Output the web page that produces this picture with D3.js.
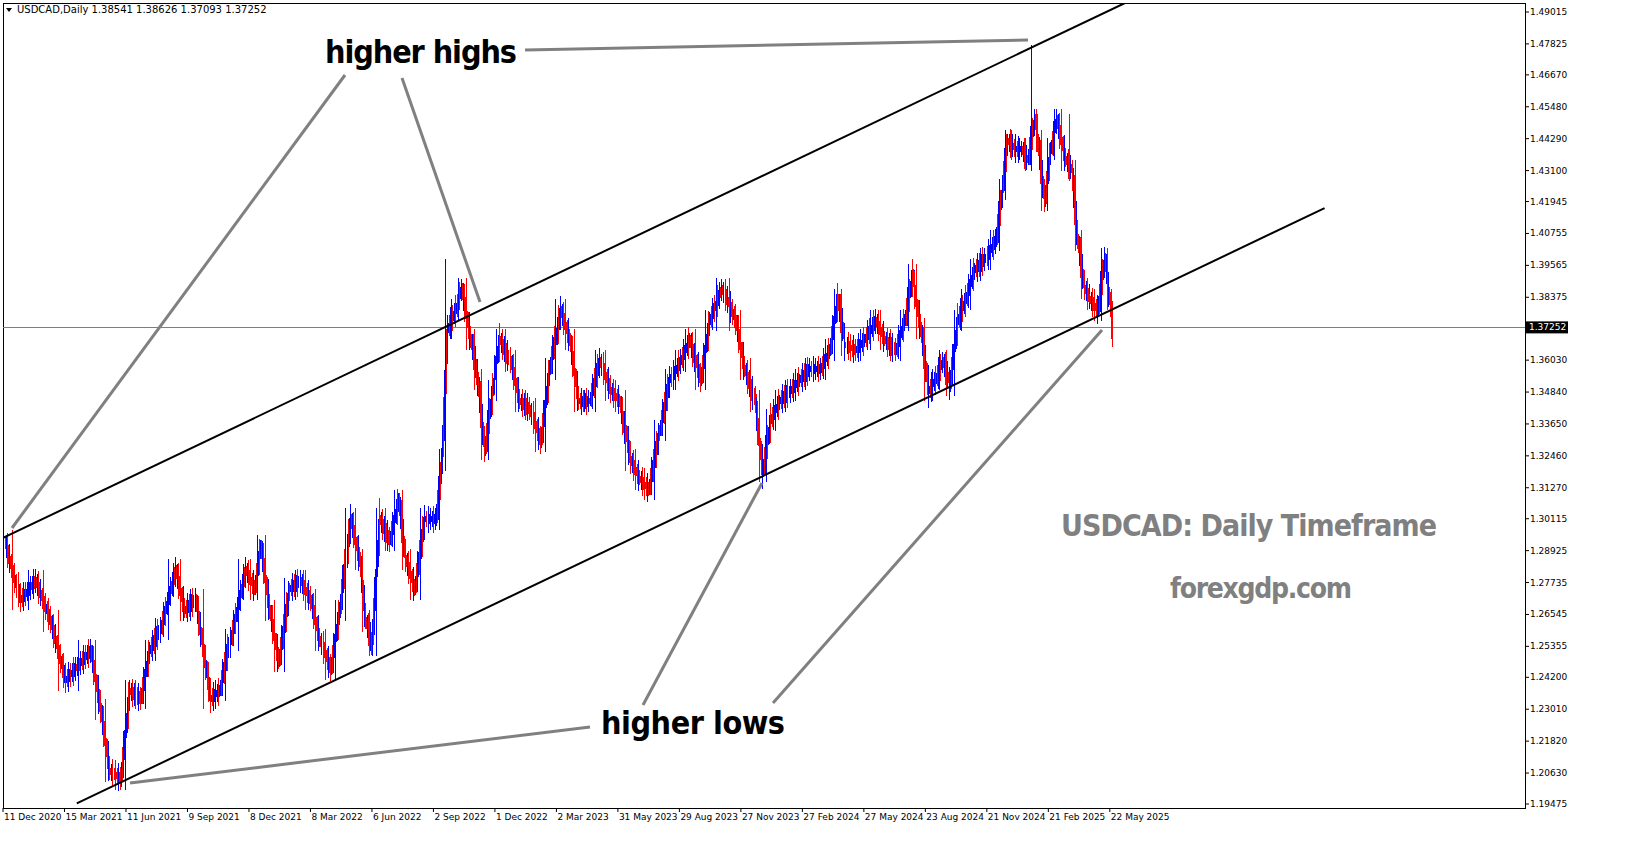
<!DOCTYPE html>
<html><head><meta charset="utf-8">
<script src="https://d3js.org/d3.v7.min.js"></script>
<style>
body{margin:0;background:#fff;}
svg{display:block;font-family:Tahoma,"DejaVu Sans",sans-serif;}
.big{font-family:"DejaVu Sans Condensed","DejaVu Sans",sans-serif;font-weight:bold;}
</style></head>
<body><svg id="chart" width="1631" height="861"></svg>
<script>
// approximate closes, [trading-day index, price]
const barIdx = [2,18,34,50,66,92,103,113,124,134,145,155,166,182,192,203,219,229,240,256,266,272,282,291,303,314,325,335,346,356,367,377,383,390,398,409,418,425,435,446,457,464,470,478,485,494,502,509,517,525,536,546,557,568,578,589,599,608,620,631,642,652,663,673,682,694,705,716,726,737,747,760,774,784,795,803,811,821,832,842,853,864,874,882,890,901,911,922,932,943,953,961,970,978,986,993,1001,1009,1017,1027,1038,1049,1056,1062,1070,1077,1083,1090,1094,1101,1107,1114,1123,1130,1136,1143,1149,1157,1164,1170,1173];
const closes = [1.293,1.271,1.278,1.263,1.241,1.252,1.230,1.207,1.204,1.237,1.234,1.252,1.260,1.282,1.267,1.271,1.234,1.237,1.256,1.282,1.275,1.291,1.267,1.248,1.275,1.278,1.271,1.256,1.245,1.267,1.301,1.286,1.263,1.254,1.301,1.293,1.308,1.286,1.275,1.301,1.301,1.323,1.372,1.379,1.387,1.368,1.353,1.327,1.349,1.368,1.360,1.345,1.342,1.330,1.357,1.379,1.368,1.345,1.345,1.360,1.349,1.345,1.323,1.316,1.312,1.334,1.353,1.360,1.368,1.353,1.375,1.387,1.375,1.357,1.345,1.319,1.338,1.345,1.349,1.353,1.357,1.357,1.364,1.383,1.366,1.364,1.368,1.375,1.368,1.364,1.375,1.392,1.372,1.349,1.353,1.360,1.351,1.375,1.383,1.394,1.398,1.405,1.424,1.442,1.439,1.439,1.435,1.450,1.442,1.420,1.439,1.450,1.435,1.431,1.405,1.387,1.383,1.379,1.398,1.383,1.372];
const highOverride = {1090:1.478, 470:1.398, 1130:1.452};
const dateLabels = ["11 Dec 2020","15 Mar 2021","11 Jun 2021","9 Sep 2021","8 Dec 2021","8 Mar 2022","6 Jun 2022","2 Sep 2022","1 Dec 2022","2 Mar 2023","31 May 2023","29 Aug 2023","27 Nov 2023","27 Feb 2024","27 May 2024","23 Aug 2024","21 Nov 2024","21 Feb 2025","22 May 2025"];
const dateIdx = dateLabels.map((d,i)=>i*65);
const priceTicks = [1.49015,1.47825,1.46670,1.45480,1.44290,1.43100,1.41945,1.40755,1.39565,1.38375,1.36030,1.34840,1.33650,1.32460,1.31270,1.30115,1.28925,1.27735,1.26545,1.25355,1.24200,1.23010,1.21820,1.20630,1.19475];
const lastPrice = 1.37252;
const upperLine = [[0,1.294],[1186,1.4935]];
const lowerLine = [[78,1.195],[1397,1.417]];

const svg = d3.select("#chart");
const L=3, R=1525, T=3, B=808;
const x = d3.scaleLinear().domain([0,1200]).range([3,3+1200*0.946]);
const y = d3.scaleLinear().domain([1.19475,1.49015]).range([804,12]);

svg.append("rect").attr("x",L+0.5).attr("y",T+0.5).attr("width",R-L).attr("height",B-T).attr("fill","none").attr("stroke","#000");
const plot = svg.append("g");
svg.append("clipPath").attr("id","clip").append("rect").attr("x",L).attr("y",T).attr("width",R-L).attr("height",B-T);
plot.attr("clip-path","url(#clip)");

// current price line
plot.append("line").attr("x1",L).attr("x2",R).attr("y1",Math.round(y(lastPrice))+0.5).attr("y2",Math.round(y(lastPrice))+0.5).attr("stroke","#6f809c").attr("stroke-width",1);

// candles
const cg = plot.append("g").attr("shape-rendering","crispEdges");
closes.forEach((c,i)=>{
  if(i===0) return;
  const o = closes[i-1];
  const x0 = x(barIdx[i-1]), x1 = x(barIdx[i]);
  const col = c>=o ? "#0000ff" : "#ff0000";
  const hi = highOverride[barIdx[i]] || Math.max(o,c)+0.004;
  const lo = Math.min(o,c)-0.004;
  const n = Math.max(1,Math.round(x1-x0));
  for(let k=0;k<n;k++){
    const t=(k+0.5)/n, xx=Math.round(x0+(x1-x0)*t)+0.5;
    const mid=o+(c-o)*t, sw=Math.abs(c-o)/n+0.003*((k*7)%5+1)/3;
    cg.append("line").attr("x1",xx).attr("x2",xx)
      .attr("y1",y(mid+sw)).attr("y2",y(mid-sw))
      .attr("stroke",(k%3===1)?(c>=o?"#ff0000":"#0000ff"):col).attr("stroke-width",1);
  }
  const xm=Math.round((x0+x1)/2)+0.5;
  cg.append("line").attr("x1",xm).attr("x2",xm).attr("y1",y(hi)).attr("y2",y(lo)).attr("stroke",col).attr("stroke-width",1);
});

// trend lines
[upperLine,lowerLine].forEach(l=>{
  plot.append("line").attr("x1",x(l[0][0])).attr("y1",y(l[0][1])).attr("x2",x(l[1][0])).attr("y2",y(l[1][1]))
    .attr("stroke","#000").attr("stroke-width",2);
});

// annotation arrows
const gray="#808080";
[[525,50,1028,40],[345,75,12,528],[402,78,480,302],[590,727,130,783],[643,705,762,483],[773,703,1102,330]].forEach(s=>{
  svg.append("line").attr("x1",s[0]).attr("y1",s[1]).attr("x2",s[2]).attr("y2",s[3]).attr("stroke",gray).attr("stroke-width",3);
});
svg.append("text").attr("class","big").attr("x",421).attr("y",63).attr("text-anchor","middle").attr("font-size",32).attr("textLength",192).text("higher highs");
svg.append("text").attr("class","big").attr("x",693).attr("y",734).attr("text-anchor","middle").attr("font-size",32).attr("textLength",184).text("higher lows");
svg.append("text").attr("class","big").attr("x",1249).attr("y",536).attr("text-anchor","middle").attr("font-size",30).attr("fill",gray).attr("textLength",376).text("USDCAD: Daily Timeframe");
svg.append("text").attr("class","big").attr("x",1261).attr("y",598).attr("text-anchor","middle").attr("font-size",28).attr("fill",gray).attr("textLength",182).text("forexgdp.com");

// header
svg.append("path").attr("d","M6,8 L12,8 L9,12 Z").attr("fill","#000");
svg.append("text").attr("x",17).attr("y",13).attr("font-size",10).text("USDCAD,Daily  1.38541 1.38626 1.37093 1.37252");

// right axis
const ra = svg.append("g");
priceTicks.forEach(p=>{
  ra.append("line").attr("x1",R).attr("x2",R+4).attr("y1",y(p)).attr("y2",y(p)).attr("stroke","#000");
  ra.append("text").attr("x",R+5).attr("y",y(p)+3).attr("font-size",9).text(p.toFixed(5));
});
ra.append("rect").attr("x",R+1).attr("y",y(lastPrice)-6).attr("width",42).attr("height",12).attr("fill","#000");
ra.append("text").attr("x",R+4).attr("y",y(lastPrice)+3).attr("font-size",9).attr("fill","#fff").text(lastPrice.toFixed(5));

// bottom axis
dateIdx.forEach((d,i)=>{
  const xx=x(d);
  svg.append("line").attr("x1",xx).attr("x2",xx).attr("y1",B).attr("y2",B+4).attr("stroke","#000");
  svg.append("text").attr("x",xx+1).attr("y",B+12).attr("font-size",9).text(dateLabels[i]);
});
</script></body></html>
